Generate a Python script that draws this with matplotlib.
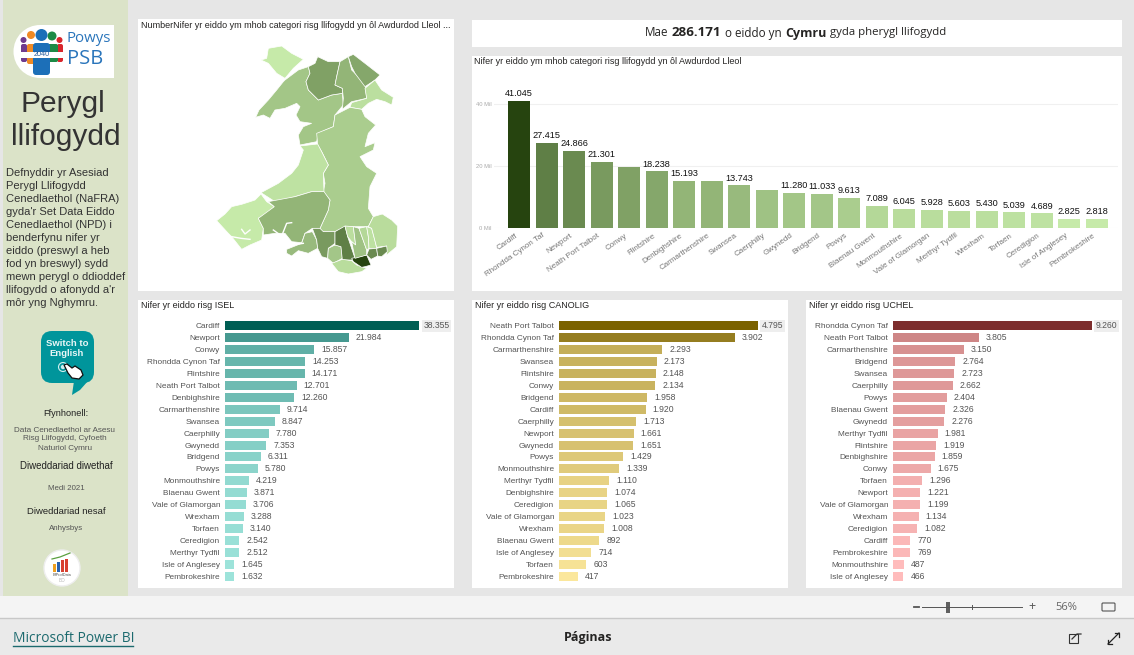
import matplotlib
matplotlib.use('Agg')
import matplotlib.pyplot as plt
from matplotlib.colors import LinearSegmentedColormap
from matplotlib.patches import Rectangle, Circle, FancyBboxPatch, Polygon
from matplotlib.transforms import ScaledTranslation

plt.rcParams['font.family'] = ['Liberation Sans', 'DejaVu Sans']

# Values (all four charts agree: total = isel + canolig + uchel)
total_names = ['Cardiff', 'Rhondda Cynon Taf', 'Newport', 'Neath Port Talbot', 'Conwy', 'Flintshire',
               'Denbighshire', 'Carmarthenshire', 'Swansea', 'Caerphilly', 'Gwynedd', 'Bridgend', 'Powys',
               'Blaenau Gwent', 'Monmouthshire', 'Vale of Glamorgan', 'Merthyr Tydfil', 'Wrexham', 'Torfaen',
               'Ceredigion', 'Isle of Anglesey', 'Pembrokeshire']
total_values = [41045, 27415, 24866, 21301, 19666, 18238, 15193, 15157, 13743, 12155, 11280, 11033, 9613,
                7089, 6045, 5928, 5603, 5430, 5039, 4689, 2825, 2818]
# these have no number over the bar in the reference
no_label = ['Conwy', 'Carmarthenshire', 'Caerphilly']

isel_names = ['Cardiff', 'Newport', 'Conwy', 'Rhondda Cynon Taf', 'Flintshire', 'Neath Port Talbot', 'Denbighshire',
              'Carmarthenshire', 'Swansea', 'Caerphilly', 'Gwynedd', 'Bridgend', 'Powys', 'Monmouthshire',
              'Blaenau Gwent', 'Vale of Glamorgan', 'Wrexham', 'Torfaen', 'Ceredigion', 'Merthyr Tydfil',
              'Isle of Anglesey', 'Pembrokeshire']
isel_values = [38355, 21984, 15857, 14253, 14171, 12701, 12260, 9714, 8847, 7780, 7353, 6311, 5780, 4219,
               3871, 3706, 3288, 3140, 2542, 2512, 1645, 1632]

canolig_names = ['Neath Port Talbot', 'Rhondda Cynon Taf', 'Carmarthenshire', 'Swansea', 'Flintshire', 'Conwy',
                 'Bridgend', 'Cardiff', 'Caerphilly', 'Newport', 'Gwynedd', 'Powys', 'Monmouthshire',
                 'Merthyr Tydfil', 'Denbighshire', 'Ceredigion', 'Vale of Glamorgan', 'Wrexham', 'Blaenau Gwent',
                 'Isle of Anglesey', 'Torfaen', 'Pembrokeshire']
canolig_values = [4795, 3902, 2293, 2173, 2148, 2134, 1958, 1920, 1713, 1661, 1651, 1429, 1339, 1110, 1074,
                  1065, 1023, 1008, 892, 714, 603, 417]

uchel_names = ['Rhondda Cynon Taf', 'Neath Port Talbot', 'Carmarthenshire', 'Bridgend', 'Swansea', 'Caerphilly',
               'Powys', 'Blaenau Gwent', 'Gwynedd', 'Merthyr Tydfil', 'Flintshire', 'Denbighshire', 'Conwy',
               'Torfaen', 'Newport', 'Vale of Glamorgan', 'Wrexham', 'Ceredigion', 'Cardiff', 'Pembrokeshire',
               'Monmouthshire', 'Isle of Anglesey']
uchel_values = [9260, 3805, 3150, 2764, 2723, 2662, 2404, 2326, 2276, 1981, 1919, 1859, 1675, 1296, 1221, 1199,
                1134, 1082, 770, 769, 487, 466]

# Local authority outlines, traced by eye
map_shapes = [
    ('Isle of Anglesey', [(400, 115), (440, 108), (470, 130), (505, 148), (475, 175), (450, 205), (425, 190),
                          (400, 160), (378, 150), (395, 145)]),
    ('Gwynedd', [(450, 210), (490, 180), (520, 170), (525, 190), (513, 215), (520, 240), (550, 270), (590, 255),
                 (622, 250), (625, 285), (600, 315), (595, 350), (550, 370), (545, 395), (520, 400), (495, 405),
                 (490, 375), (505, 350), (530, 340), (495, 335), (483, 315), (495, 290), (485, 280), (450, 295),
                 (420, 300), (405, 325), (385, 315), (362, 322), (372, 300), (400, 270), (425, 240), (445, 215)]),
    ('Conwy', [(520, 170), (540, 160), (548, 140), (580, 155), (615, 155), (605, 200), (600, 225), (622, 235),
               (622, 250), (590, 255), (550, 270), (520, 240), (513, 215), (525, 190)]),
    ('Denbighshire', [(615, 155), (640, 140), (650, 180), (690, 220), (695, 265), (650, 275), (622, 298),
                      (625, 265), (622, 235), (600, 225), (605, 200)]),
    ('Flintshire', [(640, 140), (655, 133), (690, 160), (735, 195), (720, 210), (690, 230), (660, 190), (650, 170)]),
    ('Wrexham', [(720, 210), (740, 240), (775, 262), (770, 285), (750, 275), (725, 268), (700, 280), (680, 298),
                 (645, 292), (650, 278), (695, 265), (690, 235)]),
    ('Powys', [(645, 292), (680, 298), (690, 320), (722, 345), (700, 370), (690, 410), (720, 398), (715, 420),
               (675, 440), (695, 470), (725, 490), (705, 530), (700, 595), (715, 620), (700, 650), (655, 650),
               (630, 650), (600, 665), (560, 665), (555, 655), (580, 600), (585, 570), (565, 545), (570, 520),
               (565, 490), (580, 465), (560, 425), (548, 405), (545, 370), (595, 350), (600, 315)]),
    ('Ceredigion', [(495, 408), (548, 402), (560, 425), (580, 465), (565, 490), (567, 545), (530, 545), (480, 560),
                    (420, 575), (378, 548), (430, 520), (470, 490), (490, 465), (505, 420)]),
    ('Pembrokeshire', [(378, 552), (395, 575), (418, 590), (395, 610), (370, 625), (385, 655), (380, 690),
                       (345, 705), (320, 718), (290, 680), (280, 670), (245, 632), (270, 612), (290, 590),
                       (320, 583), (345, 575), (360, 570)]),
    ('Carmarthenshire', [(370, 625), (418, 590), (400, 575), (480, 560), (530, 545), (567, 545), (585, 570),
                         (580, 600), (555, 655), (532, 655), (510, 670), (500, 698), (470, 695), (450, 670),
                         (420, 670), (385, 675), (385, 655)]),
    ('Swansea', [(510, 670), (532, 665), (545, 690), (548, 715), (520, 730), (490, 722), (470, 738), (455, 730),
                 (455, 718), (500, 700)]),
    ('Neath Port Talbot', [(532, 655), (555, 655), (565, 665), (600, 665), (600, 700), (580, 715), (578, 745),
                           (560, 740), (548, 715), (545, 690)]),
    ('Bridgend', [(580, 715), (600, 705), (618, 710), (622, 745), (595, 760), (578, 745)]),
    ('Rhondda Cynon Taf', [(600, 665), (630, 648), (638, 680), (660, 745), (650, 750), (622, 750), (618, 710),
                           (600, 705)]),
    ('Vale of Glamorgan', [(590, 760), (622, 748), (650, 752), (665, 765), (695, 775), (680, 785), (640, 792),
                           (610, 785)]),
    ('Cardiff', [(650, 745), (695, 735), (708, 765), (690, 770), (680, 772), (655, 755)]),
    ('Merthyr Tydfil', [(630, 648), (655, 650), (662, 705), (650, 695), (638, 680)]),
    ('Caerphilly', [(655, 650), (672, 655), (695, 720), (695, 735), (660, 745), (650, 695), (662, 705)]),
    ('Blaenau Gwent', [(672, 655), (695, 650), (700, 680), (702, 715), (695, 720)]),
    ('Torfaen', [(695, 650), (710, 655), (722, 700), (725, 715), (702, 715), (700, 680)]),
    ('Monmouthshire', [(700, 650), (715, 620), (742, 612), (770, 630), (788, 648), (785, 710), (755, 735),
                       (755, 708), (725, 712), (710, 655)]),
    ('Newport', [(695, 735), (702, 717), (725, 715), (728, 738), (708, 748)]),
    ('Newport', [(725, 715), (755, 708), (757, 725), (740, 740), (728, 738)]),
]
map_inlets = [
    [(290, 680), (318, 685), (345, 688)],
    [(320, 658), (330, 672), (345, 660)],
    [(415, 660), (440, 678), (455, 640), (470, 638)],
    [(470, 705), (505, 700)],
]

W, H = 1134, 655
fig = plt.figure(figsize=(W / 100, H / 100), dpi=100, facecolor='#e6e6e6')


def px_axes(left, top, width, height):
    return fig.add_axes([left / W, 1 - (top + height) / H, width / W, height / H])


def gradient(values, low, high):
    cmap = LinearSegmentedColormap.from_list('g', [low, high])
    vmin, vmax = min(values), max(values)
    return [cmap((v - vmin) / (vmax - vmin)) for v in values]


def num(v):
    return f'{v:,}'.replace(',', '.')


# page furniture, in pixel coordinates
page = fig.add_axes([0, 0, 1, 1])
page.set_xlim(0, W)
page.set_ylim(H, 0)
page.axis('off')

page.add_patch(Rectangle((3, 0), 125, 596, fc='#dbe3c8', ec='none'))
for x, y, w, h in [(138, 19, 316, 272), (472, 20, 650, 27), (472, 56, 650, 235),
                   (138, 300, 316, 288), (472, 300, 316, 288), (806, 300, 316, 288)]:
    page.add_patch(Rectangle((x, y), w, h, fc='white', ec='none'))
page.add_patch(Rectangle((0, 596), W, 22, fc='#f4f4f4', ec='none'))
page.add_patch(Rectangle((0, 618), W, 37, fc='#eaeaea', ec='none'))
page.plot([0, W], [618, 618], color='#c8c8c8', lw=1)

# Powys PSB logo
page.add_patch(Circle((40, 51.5), 26.5, fc='white', ec='none'))
page.add_patch(Rectangle((40, 25), 74, 53, fc='white', ec='none'))
for cx, cy, r, bx, bw, bb, col in [(23.5, 40, 3, 21, 6, 62, '#6f3a8e'), (59.5, 40, 3, 57, 6, 62, '#d8262c'),
                                   (31, 35, 4, 27, 10, 64, '#f08a24'), (52, 36, 4.5, 47, 11, 62, '#1c8a45')]:
    page.add_patch(Circle((cx, cy), r, fc=col, ec='none'))
    page.add_patch(FancyBboxPatch((bx, 44), bw, bb - 44, boxstyle='round,pad=0,rounding_size=2', fc=col, ec='none'))
page.add_patch(Rectangle((20, 52), 46, 6, fc='white', ec='none'))
page.add_patch(Circle((41.5, 35), 6, fc='#1c6fb8', ec='none'))
page.add_patch(FancyBboxPatch((33, 43), 17, 32, boxstyle='round,pad=0,rounding_size=3', fc='#1c6fb8', ec='none'))
page.add_patch(Rectangle((31, 52), 21, 6, fc='white', ec='none'))
page.text(41.5, 55, '2040', ha='center', va='center', fontsize=5.2, color='#2a5f9e')
page.text(67, 38, 'Powys', ha='left', va='center', fontsize=10.8, color='#2a75bb', family='Open Sans')
page.text(67, 59, 'PSB', ha='left', va='center', fontsize=14.5, color='#2a75bb', family='Open Sans')

# sidebar text
page.text(63, 104, 'Perygl', ha='center', va='center', fontsize=21.5, color='#333333')
page.text(66, 137, 'llifogydd', ha='center', va='center', fontsize=21.5, color='#333333')
para = ['Defnyddir yr Asesiad', 'Perygl Llifogydd', 'Cenedlaethol (NaFRA)', "gyda'r Set Data Eiddo",
        'Cenedlaethol (NPD) i', 'benderfynu nifer yr', 'eiddo (preswyl a heb', 'fod yn breswyl) sydd',
        'mewn perygl o ddioddef', "llifogydd o afonydd a'r", 'môr yng Nghymru.']
for i, line in enumerate(para):
    page.text(6, 173 + i * 13, line, ha='left', va='center', fontsize=8, color='#333333')

# switch button
page.add_patch(FancyBboxPatch((41, 331), 53, 52, boxstyle='round,pad=0,rounding_size=11', fc='#00959b', ec='none'))
page.add_patch(Polygon([(74, 381), (88, 381), (80, 390), (72, 395)], fc='#00959b', ec='none'))
page.text(67, 343, 'Switch to', ha='center', va='center', fontsize=6.8, color='#e8f6f6', weight='bold')
page.text(67, 353, 'English', ha='center', va='center', fontsize=6.8, color='#e8f6f6', weight='bold')
page.add_patch(Circle((63, 367), 4.5, fc='none', ec='#cfeeee', lw=0.8))
page.add_patch(Circle((63, 367), 2.2, fc='#cfeeee', ec='none'))
page.add_patch(Polygon([(64, 365), (67, 364), (72, 368), (75, 366), (81, 370), (83, 375), (79, 379), (72, 378),
                        (68, 373)], fc='white', ec='#111111', lw=0.9))

# sources
page.text(66, 413, 'Ffynhonell:', ha='center', va='center', fontsize=6.6, color='#222222')
for y, line in [(430, 'Data Cenedlaethol ar Asesu'), (439, 'Risg Llifogydd, Cyfoeth'), (448, 'Naturiol Cymru')]:
    page.text(65, y, line, ha='center', va='center', fontsize=5.9, color='#555555')
page.text(66, 466, 'Diweddariad diwethaf', ha='center', va='center', fontsize=7, color='#222222')
page.text(66, 488, 'Medi 2021', ha='center', va='center', fontsize=5.7, color='#555555')
page.text(66, 511, 'Diweddariad nesaf', ha='center', va='center', fontsize=6.8, color='#222222')
page.text(66, 529, 'Anhysbys', ha='center', va='center', fontsize=5.7, color='#555555')

# small round logo
page.add_patch(Circle((62, 568), 18, fc='white', ec='#eeeeee', lw=1))
for x, top, col in [(53, 564, '#f0a020'), (57, 562, '#2a62b0'), (61, 560, '#d84030'), (65, 559, '#d84030')]:
    page.add_patch(Rectangle((x, top), 3, 572 - top, fc=col, ec='none'))
page.plot([52, 60, 70], [559, 557, 553], color='#5aa040', lw=0.9)
page.text(62, 575.5, 'BIProfData', ha='center', va='center', fontsize=2.8, color='#555555')
page.text(62, 580, 'BD', ha='center', va='center', fontsize=3.5, color='#bbbbbb')

# panel titles
title_color = '#252423'
page.text(141, 25, 'NumberNifer yr eiddo ym mhob categori risg llifogydd yn ôl Awdurdod Lleol ...', ha='left',
          va='center', fontsize=6.45, color=title_color)
page.text(474, 61, 'Nifer yr eiddo ym mhob categori risg llifogydd yn ôl Awdurdod Lleol', ha='left', va='center',
          fontsize=6.5, color=title_color)
page.text(141, 305, 'Nifer yr eiddo risg ISEL', ha='left', va='center', fontsize=6.45, color=title_color)
page.text(475, 305, 'Nifer yr eiddo risg CANOLIG', ha='left', va='center', fontsize=6.45, color=title_color)
page.text(809, 305, 'Nifer yr eiddo risg UCHEL', ha='left', va='center', fontsize=6.45, color=title_color)

# banner, one piece at a time because of the bold words
for x, txt, wt, fs in [(645, 'Mae', 'normal', 8.4), (672, '286.171', 'bold', 9.6), (725, 'o eiddo yn', 'normal', 8.4),
                       (785, 'Cymru', 'bold', 9), (830, 'gyda pherygl llifogydd', 'normal', 8.2)]:
    page.text(x, 33, txt, ha='left', va='center', fontsize=fs, color='#252423', weight=wt, family='Open Sans')

# bottom bars
page.plot([914, 919], [607, 607], color='#555555', lw=1.3)
page.plot([922, 1022], [607, 607], color='#555555', lw=0.7)
page.plot([972, 972], [605, 609], color='#555555', lw=0.7)
page.add_patch(Rectangle((946, 602), 4, 11, fc='#606060', ec='none'))
page.text(1032, 606.5, '+', ha='center', va='center', fontsize=9, color='#555555', family='Open Sans')
page.text(1066, 607, '56%', ha='center', va='center', fontsize=8, color='#666666', family='Open Sans')
page.add_patch(FancyBboxPatch((1102, 603), 13, 8, boxstyle='round,pad=0,rounding_size=1', fc='none', ec='#555555', lw=0.8))
page.text(13, 639, 'Microsoft Power BI', ha='left', va='center', fontsize=9.9, color='#1c6a6e', family='Open Sans')
page.plot([13, 133], [646, 646], color='#1c6a6e', lw=1)
page.text(588, 638, 'Páginas', ha='center', va='center', fontsize=9, color='#252423', weight='bold', family='Open Sans')
page.add_patch(Rectangle((1069, 634), 9, 9, fc='none', ec='#333333', lw=0.8))
page.plot([1072, 1077, 1081], [639, 634, 634], color='#333333', lw=0.9)
page.plot([1108, 1119], [644, 633], color='#222222', lw=0.9)
page.plot([1108, 1108, 1112], [640, 644, 644], color='#222222', lw=0.9)
page.plot([1115, 1119, 1119], [633, 633, 637], color='#222222', lw=0.9)

# Wales map, coloured by the totals
total_colors = dict(zip(total_names, gradient(total_values, '#c6eaa9', '#26440f')))
ax_map = px_axes(135, 10, 325, 285)
ax_map.set_xlim(0, 975)
ax_map.set_ylim(855, 0)
ax_map.axis('off')
for name, outline in map_shapes:
    ax_map.add_patch(Polygon(outline, fc=total_colors[name], ec='white', lw=0.5))
for inlet in map_inlets:
    ax_map.plot(*zip(*inlet), color='white', lw=1)

# top column chart
ax = px_axes(494, 70, 624, 158)
positions = list(range(len(total_names)))
ax.bar(positions, total_values, width=0.8, color=gradient(total_values, '#c6eaa9', '#26440f'))
ax.set_xlim(-0.91, 21.77)
ax.set_ylim(0, 158 / 62 * 20000)
ax.patch.set_alpha(0)
ax.set_yticks([0, 20000, 40000], ['0 Mil', '20 Mil', '40 Mil'], fontsize=4.2, color='#aaaaaa')
ax.set_xticks(positions)
ax.set_xticklabels(total_names, rotation=35, ha='right', rotation_mode='anchor', fontsize=5.8, color='#777777')
ax.tick_params(length=0, pad=2)
ax.tick_params(axis='x', pad=3)
# labels sit a little left of the bar centre
shift = ScaledTranslation(-3 / 72, 0, fig.dpi_scale_trans)
for lab in ax.get_xticklabels():
    lab.set_transform(lab.get_transform() + shift)
ax.grid(axis='y', color='#f0f0f0', lw=0.8)
ax.set_axisbelow(True)
for s in ax.spines.values():
    s.set_visible(False)
for p, name, v in zip(positions, total_names, total_values):
    if name not in no_label:
        ax.annotate(num(v), (p, v), xytext=(0, 2), textcoords='offset points', ha='center', va='bottom',
                    fontsize=6.6, color='#111111')


def risk_panel(left, bar_w, xmax, names, values, low, high):
    # the longest bar runs off the axis end in all three panels
    ax = px_axes(left, 320, bar_w, 262)
    ypos = list(range(len(names)))
    ax.barh(ypos, values, height=9 / 11.9, color=gradient(values, low, high))
    ax.set_ylim(len(names) - 1 + 0.5, -0.5)
    ax.set_xlim(0, xmax)
    ax.patch.set_alpha(0)
    ax.set_xticks([])
    ax.set_yticks(ypos)
    ax.set_yticklabels(names, fontsize=5.95, color='#555555')
    ax.tick_params(length=0, pad=3.6)
    for s in ax.spines.values():
        s.set_visible(False)
    for y, v in zip(ypos, values):
        if v > xmax:
            ax.annotate(num(v), (xmax, y), xytext=(3, 0), textcoords='offset points', ha='left', va='center',
                        fontsize=6.2, color='#555555', bbox=dict(fc='#eeeeee', ec='none', pad=1))
        else:
            ax.annotate(num(v), (v, y), xytext=(5, 0), textcoords='offset points', ha='left', va='center',
                        fontsize=6.2, color='#555555')


risk_panel(225, 194, 34450, isel_names, isel_values, '#9de3da', '#005e54')
risk_panel(559, 198.7, 4405, canolig_names, canolig_values, '#fbe79c', '#7b6200')
risk_panel(893, 198.7, 8830, uchel_names, uchel_values, '#ffbcbc', '#7d2e2e')

fig.savefig('out.png', dpi=100, facecolor=fig.get_facecolor())
